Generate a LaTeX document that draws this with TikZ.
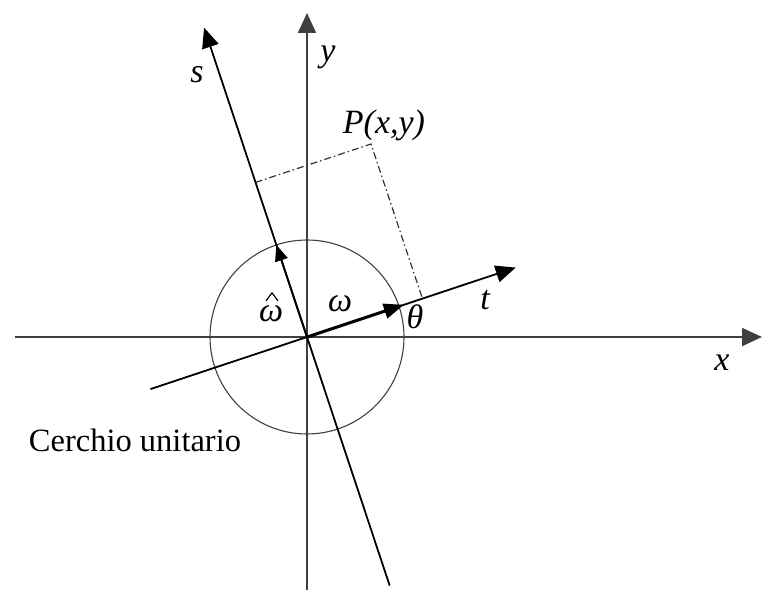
\documentclass[tikz,border=0pt]{standalone}
\usepackage{fontspec}
\setmainfont{Liberation Serif}
\usetikzlibrary{arrows.meta,calc}
\begin{document}
\begin{tikzpicture}[x=1pt,y=1pt,
  axis/.style={draw=black!75,line width=2pt,-{Triangle[length=20pt,width=18pt]}},
  rotaxis/.style={draw=black,line width=1.8pt,-{Triangle[length=20pt,width=17pt]}},
  vec/.style={draw=black,line width=3pt,-{Triangle[length=20pt,width=15pt]}},
  hvec/.style={draw=black,line width=1.8pt,-{Triangle[length=16pt,width=13pt]}},
  proj/.style={draw=black!80,line width=1.2pt,dash pattern=on 7pt off 3pt on 1.5pt off 3pt},
  lbl/.style={font=\fontsize{34}{34}\selectfont\itshape,inner sep=0pt},
  txt/.style={font=\fontsize{32.5}{32.5}\selectfont,inner sep=0pt}]
\useasboundingbox (0,0) rectangle (763,592);
\coordinate (O) at (307,255);
\coordinate (xL) at (15,255);
\coordinate (xR) at (762,255);
\coordinate (yB) at (307,2);
\coordinate (yT) at (307,579);
\coordinate (tB) at ($(O)+(198.4:165)$);
\coordinate (tT) at ($(O)+(18.4:220)$);
\coordinate (sB) at ($(O)+(288.4:262)$);
\coordinate (sT) at ($(O)+(108.4:326)$);
\coordinate (wT) at ($(O)+(18.4:102)$);
\coordinate (whT) at ($(O)+(108.4:97)$);
\coordinate (P) at (371,448);
\coordinate (Ft) at ($(O)!(P)!(tT)$);
\coordinate (Fs) at ($(O)!(P)!(sT)$);
% circle
\draw[black!75,line width=1.1pt] (O) circle (97);
% axes
\draw[axis] (xL) -- (xR);
\draw[axis] (yB) -- (yT);
\draw[rotaxis] (tB) -- (tT);
\draw[rotaxis] (sB) -- (sT);
% projections
\draw[proj] (Fs) -- (P) -- (Ft);
% vectors
\draw[vec] (O) -- (wT);
\draw[hvec] (O) -- (whT);
% labels
\node[lbl] (ls) at (197,517) {s};
\node[lbl] (ly) at (328,535) {y};
\node[lbl] (lP) at (384,467) {P(x,y)};
\node[lbl,anchor=base] (lwh) at (271,270) {ω};
\draw[line width=1.2pt,line join=miter] ($(lwh.north)+(-5,5)$) -- ($(lwh.north)+(1,13)$) -- ($(lwh.north)+(7,5)$);
\node[lbl,anchor=base] (lw) at (340,280) {ω};
\node[lbl] (lth) at (415,275) {θ};
\node[lbl] (lt) at (485,292) {t};
\node[lbl] (lx) at (722,229) {x};
\node[txt] (lc) at (135,152) {Cerchio unitario};
\end{tikzpicture}
\end{document}
